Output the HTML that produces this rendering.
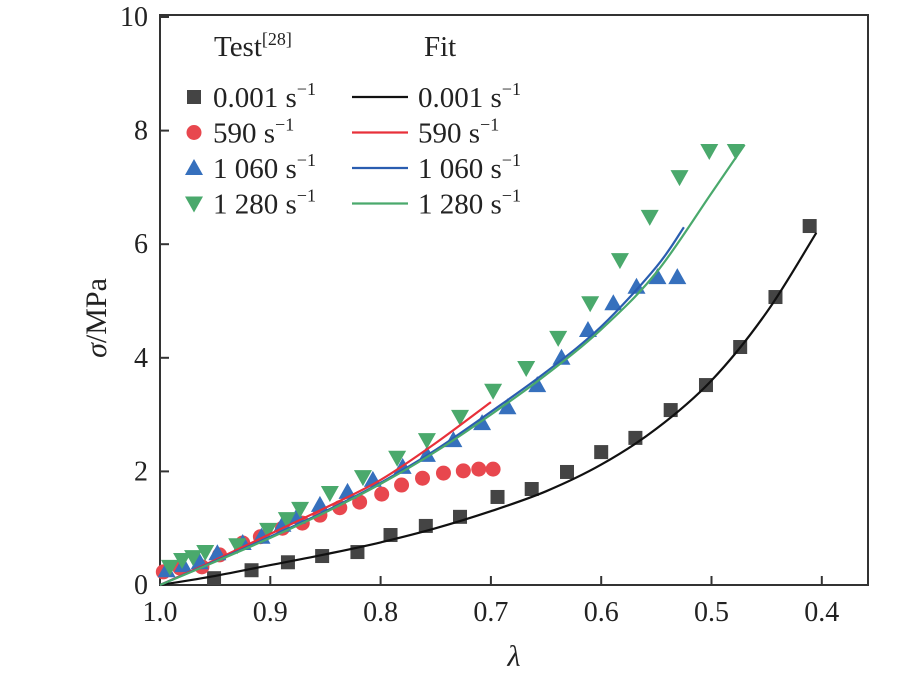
<!DOCTYPE html>
<html><head><meta charset="utf-8"><style>
html,body{margin:0;padding:0;background:#fff;}
svg{display:block;font-family:"Liberation Serif",serif;}
</style></head><body>
<svg id="chart" width="921" height="673" viewBox="0 0 921 673" xmlns="http://www.w3.org/2000/svg">
<g id="plot"></g>
</svg>
<script>
const xTicks=[1.0,0.9,0.8,0.7,0.6,0.5,0.4];
const xTickLabels=["1.0","0.9","0.8","0.7","0.6","0.5","0.4"];
const yTicks=[0,2,4,6,8,10];
const yTickLabels=["0","2","4","6","8","10"];
const sqLam=[0.951,0.917,0.884,0.853,0.821,0.791,0.759,0.728,0.694,0.663,0.631,0.600,0.569,0.537,0.505,0.474,0.442,0.411];
const sqSig=[0.12,0.26,0.40,0.51,0.58,0.88,1.04,1.20,1.55,1.69,1.99,2.34,2.59,3.08,3.52,4.19,5.07,6.32];
const ciLam=[0.997,0.982,0.962,0.946,0.925,0.909,0.889,0.871,0.855,0.837,0.819,0.799,0.781,0.762,0.743,0.725,0.711,0.698];
const ciSig=[0.23,0.30,0.32,0.53,0.74,0.85,1.00,1.09,1.23,1.36,1.46,1.60,1.76,1.88,1.97,2.01,2.04,2.04];
const upLam=[0.994,0.979,0.964,0.948,0.925,0.908,0.889,0.876,0.855,0.830,0.807,0.780,0.758,0.734,0.708,0.685,0.658,0.636,0.612,0.589,0.568,0.549,0.531];
const upSig=[0.26,0.35,0.40,0.56,0.74,0.85,1.06,1.20,1.41,1.64,1.85,2.08,2.29,2.55,2.85,3.13,3.52,4.00,4.49,4.96,5.25,5.42,5.42];
const dnLam=[0.991,0.980,0.970,0.959,0.930,0.902,0.885,0.873,0.846,0.816,0.785,0.758,0.728,0.698,0.668,0.639,0.610,0.583,0.556,0.529,0.502,0.478];
const dnSig=[0.32,0.44,0.49,0.58,0.70,0.97,1.16,1.34,1.62,1.90,2.24,2.55,2.96,3.42,3.82,4.35,4.96,5.72,6.48,7.18,7.64,7.64];
const fitBlackLam=[1.0,0.95,0.9,0.85,0.8,0.75,0.7,0.65,0.6,0.55,0.5,0.45,0.405];
const fitBlackSig=[0,0.16,0.35,0.54,0.75,1.0,1.3,1.65,2.12,2.75,3.6,4.8,6.2];
const fitRedLam=[1.0,0.95,0.9,0.85,0.8,0.75,0.7];
const fitRedSig=[0,0.44,0.9,1.36,1.85,2.5,3.22];
const fitBlueLam=[1.0,0.95,0.9,0.85,0.8,0.75,0.7,0.65,0.6,0.55,0.525];
const fitBlueSig=[0,0.42,0.85,1.3,1.8,2.38,3.05,3.75,4.55,5.6,6.3];
const fitGreenLam=[1.0,0.95,0.9,0.85,0.8,0.75,0.7,0.65,0.6,0.55,0.5,0.47];
const fitGreenSig=[0,0.41,0.83,1.28,1.78,2.35,3.0,3.7,4.5,5.5,6.9,7.75];

const NS="http://www.w3.org/2000/svg";
const g=document.getElementById('plot');
const X0=160,X1=868,Y0=585,Y1=15;
const xs=l=>160+(1.0-l)/0.1*110.3;
const ys=s=>585-s*56.8;
function mk(tag,attrs,parent){const e=document.createElementNS(NS,tag);for(const k in attrs)e.setAttribute(k,attrs[k]);(parent||g).appendChild(e);return e;}

const frame=mk('rect',{x:X0,y:Y1,width:X1-X0,height:Y0-Y1,fill:'none',stroke:'#333',"stroke-width":2});


xTicks.forEach((t,i)=>{
  const l=mk('line',{x1:xs(t),x2:xs(t),y1:Y0,y2:Y0-9,stroke:'#333',"stroke-width":2});
  
  
  const tx=mk('text',{x:xs(t),y:Y0+36,"text-anchor":"middle","font-size":28,fill:'#222'});
  tx.textContent=xTickLabels[i];
  
  
});
yTicks.forEach((t,i)=>{
  const l=mk('line',{x1:X0,x2:X0+9,y1:ys(t),y2:ys(t),stroke:'#333',"stroke-width":2});
  
  
  const tx=mk('text',{x:X0-12,y:ys(t)+9,"text-anchor":"end","font-size":28,fill:'#222'});
  tx.textContent=yTickLabels[i];
  
  
});
const xt=mk('text',{x:514,y:666,"text-anchor":"middle","font-size":30,"font-style":"italic",fill:'#222'});
xt.textContent='λ';


const yt=mk('text',{x:0,y:0,"text-anchor":"middle","font-size":30,fill:'#222',transform:'translate(106,318) rotate(-90)'});
yt.innerHTML='<tspan font-style="italic">σ</tspan>/MPa';



function line(L,S,color,name){
  const P=L.map((l,i)=>[xs(l),ys(S[i])]);
  let d='M'+P[0][0].toFixed(1)+' '+P[0][1].toFixed(1);
  for(let i=0;i<P.length-1;i++){
    const p0=P[Math.max(0,i-1)],p1=P[i],p2=P[i+1],p3=P[Math.min(P.length-1,i+2)];
    const c1=[p1[0]+(p2[0]-p0[0])/6,p1[1]+(p2[1]-p0[1])/6];
    const c2=[p2[0]-(p3[0]-p1[0])/6,p2[1]-(p3[1]-p1[1])/6];
    d+=` C${c1[0].toFixed(1)} ${c1[1].toFixed(1)} ${c2[0].toFixed(1)} ${c2[1].toFixed(1)} ${p2[0].toFixed(1)} ${p2[1].toFixed(1)}`;
  }
  const p=mk('path',{d:d,fill:'none',stroke:color,"stroke-width":2.2,"stroke-linejoin":"round"});
  
  
}
function marker(type,x,y,color,name){
  let e;
  if(type==='sq')e=mk('rect',{x:x-7,y:y-7,width:14,height:14,fill:color});
  else if(type==='ci')e=mk('circle',{cx:x,cy:y,r:7.5,fill:color});
  else if(type==='up')e=mk('polygon',{points:`${x},${y-9} ${x+9},${y+7} ${x-9},${y+7}`,fill:color});
  else e=mk('polygon',{points:`${x},${y+9} ${x+9},${y-7} ${x-9},${y-7}`,fill:color});
  
  
}
const C={sq:'#444',ci:'#e8474e',up:'#3670bd',dn:'#4aa96c'};
sqLam.forEach((l,i)=>marker('sq',xs(l),ys(sqSig[i]),C.sq,'point-0001'));
ciLam.forEach((l,i)=>marker('ci',xs(l),ys(ciSig[i]),C.ci,'point-590'));
upLam.forEach((l,i)=>marker('up',xs(l),ys(upSig[i]),C.up,'point-1060'));
dnLam.forEach((l,i)=>marker('dn',xs(l),ys(dnSig[i]),C.dn,'point-1280'));
line(fitBlackLam,fitBlackSig,'#111','fit-line-0001');
line(fitRedLam,fitRedSig,'#e8303a','fit-line-590');
line(fitBlueLam,fitBlueSig,'#2a5db0','fit-line-1060');
line(fitGreenLam,fitGreenSig,'#4aa96c','fit-line-1280');

const lh=mk('text',{x:214,y:56,"font-size":29,fill:'#222'});
lh.innerHTML='Test<tspan font-size="18" dy="-11">[28]</tspan>';


const lf=mk('text',{x:424,y:56,"font-size":29,fill:'#222'});
lf.textContent='Fit';


const labels=['0.001','590','1 060','1 280'];
const types=['sq','ci','up','dn'];
const cols=[C.sq,C.ci,C.up,C.dn];
const lcols=['#111','#e8303a','#2a5db0','#4aa96c'];
labels.forEach((lab,i)=>{
  const y=97+i*35.5;
  marker(types[i],194,y,cols[i],'legend-marker');
  const t=mk('text',{x:213,y:y+10,"font-size":29,fill:'#222'});
  t.innerHTML=lab+' s<tspan font-size="18" dy="-12">−1</tspan>';
  
  
  const ln=mk('line',{x1:352,x2:408,y1:y,y2:y,stroke:lcols[i],"stroke-width":2.2});
  
  
  const t2=mk('text',{x:418,y:y+10,"font-size":29,fill:'#222'});
  t2.innerHTML=lab+' s<tspan font-size="18" dy="-12">−1</tspan>';
  
  
});
</script>
</body></html>
